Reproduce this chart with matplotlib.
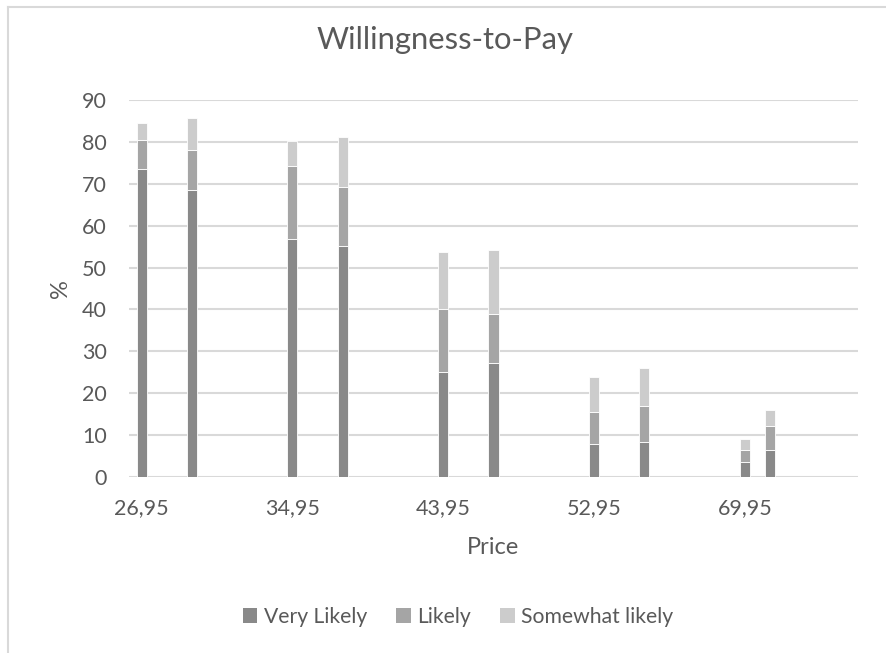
import numpy as np
import matplotlib.pyplot as plt
from matplotlib.patches import Patch
from matplotlib.lines import Line2D

# survey answers per price point, two waves each
prices = ["26,95", "34,95", "43,95", "52,95", "69,95"]
very_likely = [73.5, 68.4, 56.7, 55.1, 25.1, 27.3, 7.9, 8.3, 3.5, 6.5]
likely = [6.9, 9.7, 17.6, 14.2, 15.1, 11.7, 7.7, 8.7, 3.0, 5.6]
somewhat_likely = [4.0, 7.6, 5.9, 11.8, 13.5, 15.2, 8.3, 9.0, 2.6, 3.8]

# category slots on the axis (empty slots keep the gaps between price groups)
slots = [0, 2, 6, 8, 12, 14, 18, 20, 24, 25]
n_slots = 29
label_slots = [0, 6, 12, 18, 24]

colors = ["#898989", "#a5a5a5", "#cccccc"]
names = ["Very Likely", "Likely", "Somewhat likely"]
text_color = "#595959"
grid_color = "#d9d9d9"

plt.rcParams['font.family'] = ['Lato', 'DejaVu Sans']
plt.rcParams['axes.axisbelow'] = True

fig = plt.figure(figsize=(8.87, 6.53), dpi=100)
ax = fig.add_axes([129/887, 1 - 477/653, 729/887, 377/653])

# chart area frame (only left and top edges fall inside the image)
fig.add_artist(Line2D([8/887, 8/887], [0, 1 - 7/653], transform=fig.transFigure,
                      color=grid_color, linewidth=1.5))
fig.add_artist(Line2D([8/887, 1], [1 - 7/653, 1 - 7/653], transform=fig.transFigure,
                      color=grid_color, linewidth=1.5))

bottom = np.zeros(len(slots))
for vals, c in zip([very_likely, likely, somewhat_likely], colors):
    ax.bar(slots, vals, width=0.4, bottom=bottom, color=c, edgecolor="white", linewidth=0.6)
    bottom += np.array(vals)

ax.set_xlim(-0.5, n_slots - 0.5)
ax.set_ylim(0, 90)
ax.set_yticks(np.arange(0, 91, 10))
ax.set_xticks(label_slots)
ax.set_xticklabels(prices)
ax.grid(axis="y", color=grid_color, linewidth=1.5)
for s in ax.spines.values():
    s.set_visible(False)
ax.tick_params(axis="both", length=0, labelsize=15.5, colors=text_color)
ax.tick_params(axis="y", pad=16)
ax.tick_params(axis="x", pad=15)

ax.set_xlabel("Price", fontsize=17, color=text_color, labelpad=14)
ax.set_ylabel("%", fontsize=17, color=text_color, labelpad=8)

fig.text(445/887, 1 - 40/653, "Willingness-to-Pay", fontsize=22.3, color=text_color,
         ha="center", va="center")

handles = [Patch(facecolor=c, edgecolor="none") for c in colors]
fig.legend(handles, names, loc="center", bbox_to_anchor=(458/887, 1 - 617/653), ncol=3,
           frameon=False, fontsize=15.2, labelcolor=text_color, handlelength=0.68,
           handleheight=0.68, handletextpad=0.3, columnspacing=1.4)

fig.savefig("out.png", dpi=100)
